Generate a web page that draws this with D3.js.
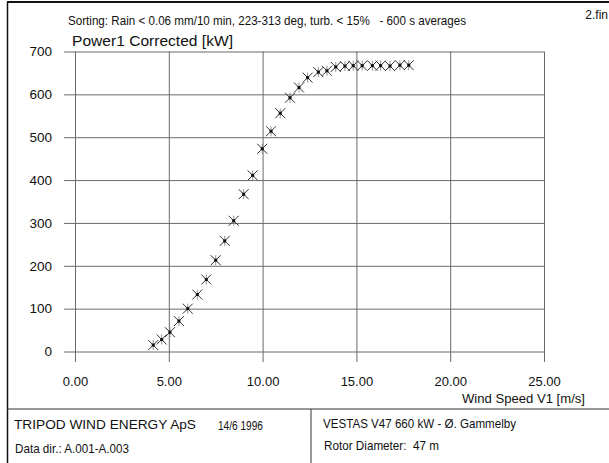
<!DOCTYPE html>
<html>
<head>
<meta charset="utf-8">
<script src="https://cdn.jsdelivr.net/npm/d3@7"></script>
<style>
  html, body { margin: 0; padding: 0; background: #fff; }
  svg { display: block; font-family: "Liberation Sans", Arial, sans-serif; }
  text { fill: #111; white-space: pre; }
</style>
</head>
<body>
<svg id="chart" width="609" height="463"></svg>
<script>
// Measured power curve: bin-averaged wind speed (m/s) and corrected power (kW)
const windSpeed = [4.17, 4.62, 5.06, 5.54, 6.01, 6.52, 7.00, 7.50, 7.98, 8.46,
                   8.99, 9.47, 9.98, 10.45, 10.94, 11.46, 11.94, 12.40, 12.97, 13.43,
                   13.90, 14.39, 14.83, 15.31, 15.85, 16.29, 16.79, 17.32, 17.79];
const power = [15, 28, 45, 71, 100, 133, 168, 213, 258, 305,
               367, 411, 473, 514, 556, 592, 616, 639, 652, 655,
               664, 666, 667, 667, 667, 667, 666, 668, 668];

const xTicks = [0, 5, 10, 15, 20, 25];
const xTickLabels = ["0.00", "5.00", "10.00", "15.00", "20.00", "25.00"];
const yTicks = [0, 100, 200, 300, 400, 500, 600, 700];

const svg = d3.select("#chart");

const x = d3.scaleLinear().domain([0, 25]).range([75, 544]);
const y = d3.scaleLinear().domain([0, 700]).range([351.5, 51.5]);

// Page frame
svg.append("line").attr("x1", 7).attr("x2", 609).attr("y1", 2).attr("y2", 2)
  .attr("stroke", "#111").attr("stroke-width", 2);
svg.append("line").attr("x1", 7.5).attr("x2", 7.5).attr("y1", 2).attr("y2", 463)
  .attr("stroke", "#111").attr("stroke-width", 1.5);

// Fitted text helper
function label(px, py, size, str, width) {
  const t = svg.append("text").attr("x", px).attr("y", py).attr("font-size", size).text(str);
  if (width) t.attr("textLength", width).attr("lengthAdjust", "spacingAndGlyphs");
  return t;
}

// Header texts
label(68, 25, 13, "Sorting: Rain < 0.06 mm/10 min, 223-313 deg, turb. < 15%   - 600 s averages", 398);
svg.append("text").attr("x", 608).attr("y", 19).attr("text-anchor", "end")
  .attr("font-size", 12).text("2.fin");
label(72, 46, 15.5, "Power1 Corrected [kW]", 161);

// Horizontal grid lines with left tick extension
const yAxis = d3.axisLeft(y).tickValues(yTicks).tickSize(544 - 64).tickPadding(12)
  .tickFormat(d3.format("d"));
const gy = svg.append("g").attr("transform", "translate(544,0)").call(yAxis);
gy.select(".domain").remove();
gy.selectAll(".tick line").attr("stroke", "#6a6a6a").attr("stroke-width", 1);
gy.selectAll(".tick text").attr("font-size", 13.5).attr("fill", "#111")
  .attr("font-family", "Liberation Sans, Arial, sans-serif");

// Vertical grid lines with tick extension below the plot
const xAxis = d3.axisBottom(x).tickValues(xTicks).tickSize(362 - 51.5).tickPadding(15)
  .tickFormat((d, i) => xTickLabels[i]);
const gx = svg.append("g").attr("transform", "translate(0,51.5)").call(xAxis);
gx.select(".domain").remove();
gx.selectAll(".tick line").attr("stroke", "#6a6a6a").attr("stroke-width", 1);
gx.selectAll(".tick text").attr("font-size", 13).attr("fill", "#111")
  .attr("font-family", "Liberation Sans, Arial, sans-serif");

svg.append("text").attr("x", 585).attr("y", 403).attr("text-anchor", "end")
  .attr("font-size", 13).attr("textLength", 123).attr("lengthAdjust", "spacingAndGlyphs")
  .text("Wind Speed V1 [m/s]");

// Asterisk markers
const pts = d3.range(windSpeed.length).map(i => ({ ws: windSpeed[i], p: power[i] }));
const mk = svg.append("g").selectAll("g").data(pts).join("g")
  .attr("transform", d => `translate(${x(d.ws)},${y(d.p)})`);
mk.append("path").attr("d", "M-5,-5L5,5M-5,5L5,-5")
  .attr("stroke", "#333").attr("stroke-width", 1).attr("fill", "none");
mk.append("path").attr("d", "M0,-5L0,5")
  .attr("stroke", "#777").attr("stroke-width", 0.8).attr("fill", "none");
mk.append("rect").attr("x", -1.5).attr("y", -1.5).attr("width", 3).attr("height", 3)
  .attr("fill", "#111");

// Footer boxes
svg.append("line").attr("x1", 7).attr("x2", 609).attr("y1", 409).attr("y2", 409)
  .attr("stroke", "#333").attr("stroke-width", 1.2);
svg.append("line").attr("x1", 311).attr("x2", 311).attr("y1", 409).attr("y2", 463)
  .attr("stroke", "#333").attr("stroke-width", 1);

label(14, 429, 13.5, "TRIPOD WIND ENERGY ApS", 182);
label(218, 430, 13, "14/6 1996", 45);
label(15, 453, 13, "Data dir.: A.001-A.003", 114);
label(323, 428, 13.5, "VESTAS V47 660 kW - Ø. Gammelby", 193);
label(324, 450, 13, "Rotor Diameter:  47 m", 115);
</script>
</body>
</html>
